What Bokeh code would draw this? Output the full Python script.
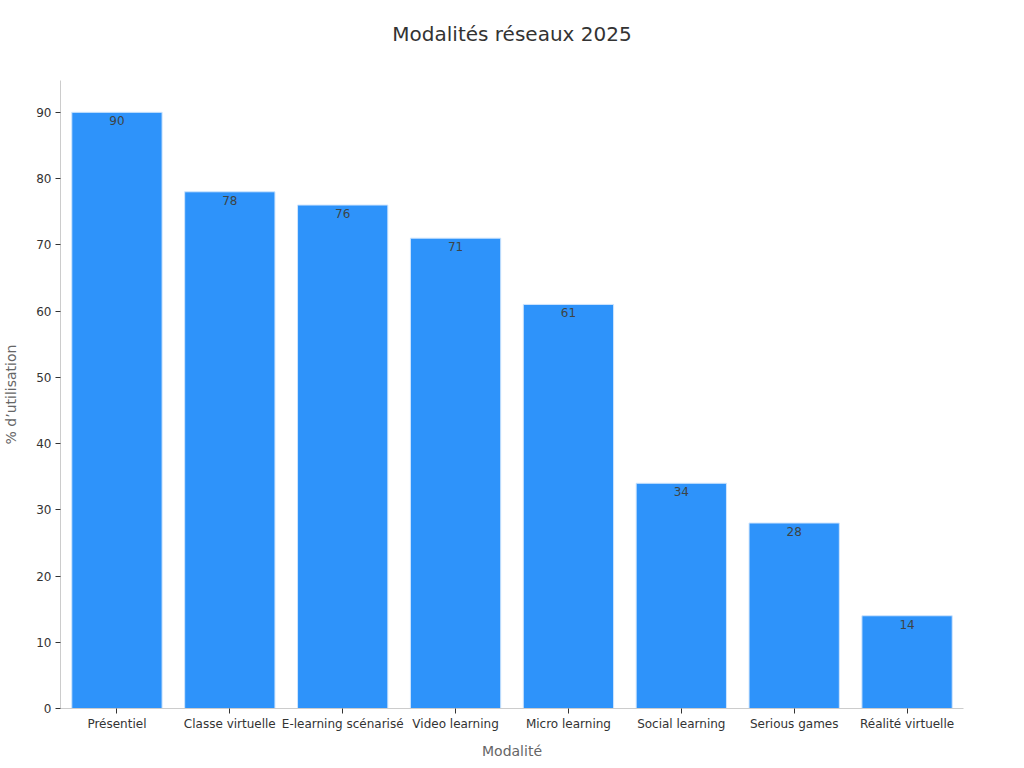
from bokeh.plotting import figure
from bokeh.models import ColumnDataSource, Range1d, FactorRange, Title
from bokeh.core.properties import value
from bokeh.embed import file_html
from bokeh.resources import INLINE

categories = ["Présentiel", "Classe virtuelle", "E-learning scénarisé", "Video learning",
              "Micro learning", "Social learning", "Serious games", "Réalité virtuelle"]
values = [90, 78, 76, 71, 61, 34, 28, 14]
labels = [str(v) for v in values]
title_text = "Modalités réseaux 2025"

FONT = "DejaVu Sans"

src = ColumnDataSource(dict(cat=categories, val=values, lab=labels))

p = figure(width=1024, height=768, x_range=FactorRange(*categories, range_padding=0),
           y_range=Range1d(0, 94.8), output_backend="svg", toolbar_location=None,
           min_border_left=59, min_border_right=61, min_border_top=80, min_border_bottom=60)

p.vbar(x="cat", top="val", width=0.8, source=src, fill_color="#2E93FA",
       line_color="#cfe5fd", line_width=1)
p.text(x="cat", y="val", text="lab", source=src, y_offset=4, text_align="center",
       text_baseline="top", text_font=value(FONT), text_font_size="12px", text_color="#3d4446")

p.title.text = ""
# spacer panel nearest the frame, then the visible title above it
p.add_layout(Title(text=" ", text_font_size="1px", standoff=32), "above")
p.add_layout(Title(text=title_text, align="center", text_font=FONT, text_font_size="20px",
                   text_font_style="normal", text_color="#333333", standoff=0), "above")

p.outline_line_color = None
p.xgrid.grid_line_color = None
p.ygrid.grid_line_color = None

for ax in (p.xaxis[0], p.yaxis[0]):
    ax.axis_line_color = "#cccccc"
    ax.major_tick_line_color = "#333333"
    ax.major_tick_out = 5
    ax.major_tick_in = 0
    ax.minor_tick_line_color = None
    ax.major_label_text_font = FONT
    ax.major_label_text_font_size = "12px"
    ax.major_label_text_color = "#333333"
    ax.axis_label_text_font = FONT
    ax.axis_label_text_font_size = "14px"
    ax.axis_label_text_font_style = "normal"
    ax.axis_label_text_color = "#666666"

p.xaxis.axis_label = "Modalité"
p.yaxis.axis_label = "% d’utilisation"
p.yaxis.ticker = [0, 10, 20, 30, 40, 50, 60, 70, 80, 90]
p.xaxis.major_label_standoff = 3
p.xaxis.axis_label_standoff = 9
p.yaxis.major_label_standoff = 4
p.yaxis.axis_label_standoff = 14

open("out.html", "w").write(file_html(p, INLINE))
